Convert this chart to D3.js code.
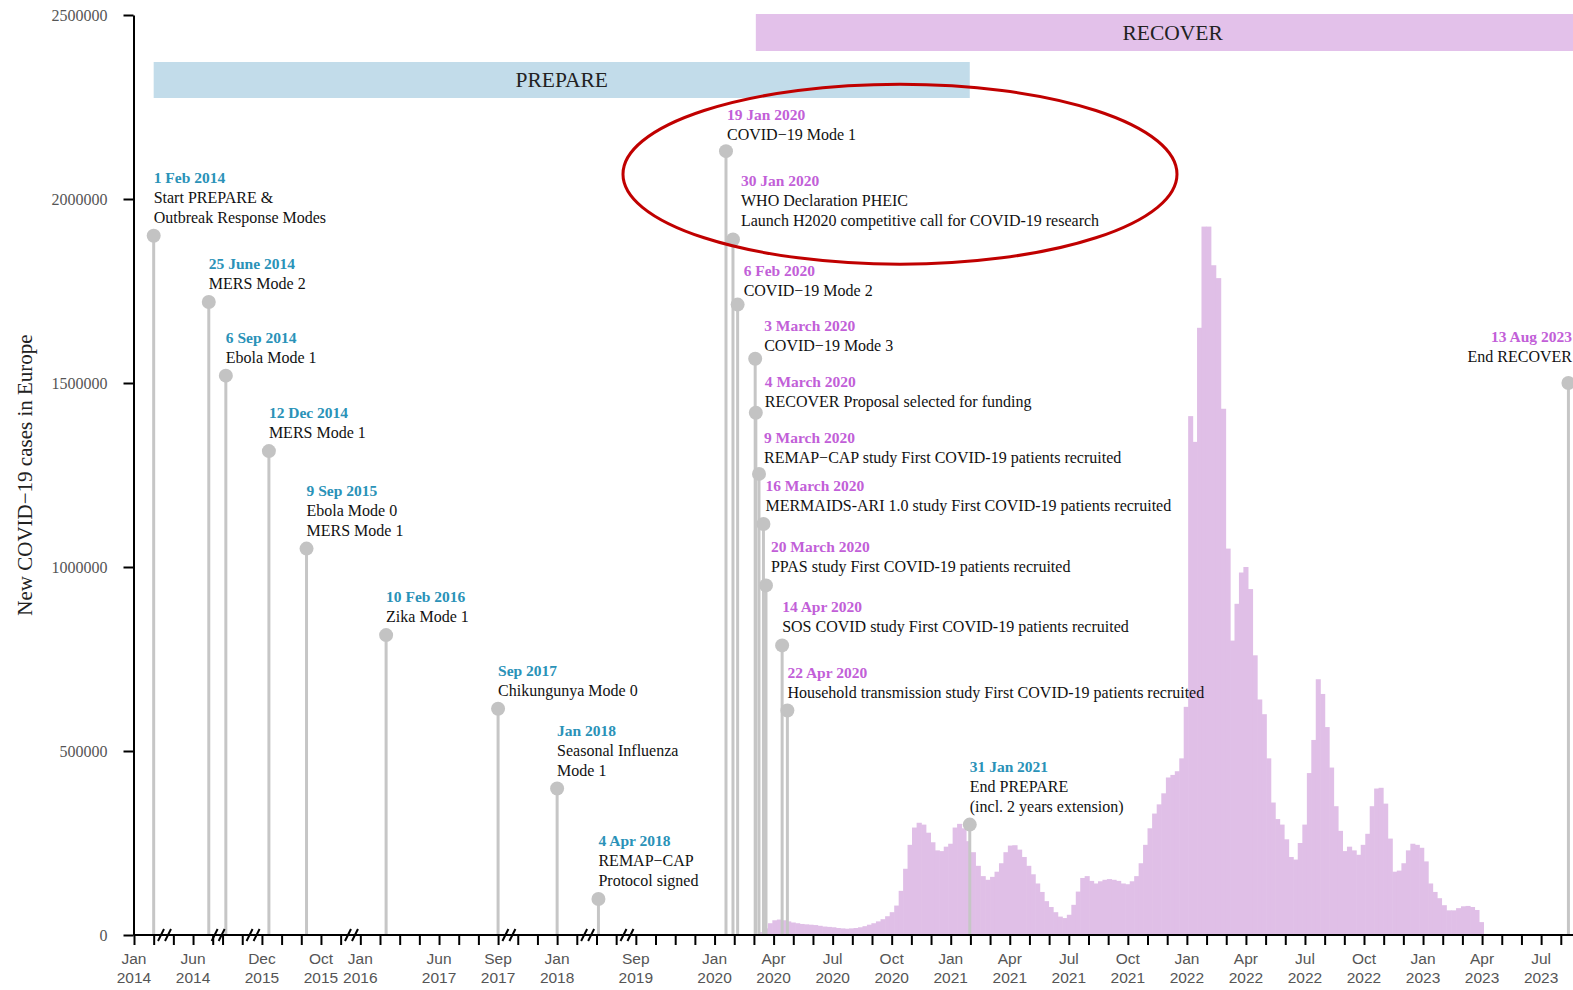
<!DOCTYPE html>
<html>
<head>
<meta charset="utf-8">
<script src="https://cdn.jsdelivr.net/npm/d3@7"></script>
<style>
  body { margin: 0; background: #fff; }
  svg { display: block; font-family: "Liberation Serif", "Times New Roman", serif; }
</style>
</head>
<body>
<div id="chart"></div>
<script>
// broken time axis: each anchor month sits on a slot, slots are evenly spaced
const axisAnchors = [
  ['2014-01-01', 0], ['2014-02-01', 1], ['2014-05-01', 2], ['2014-06-01', 3],
  ['2014-07-01', 4], ['2014-09-01', 4.5], ['2014-10-01', 5.5], ['2014-12-01', 6.5],
  ['2015-01-01', 7.5], ['2015-09-01', 8.5], ['2015-10-01', 9.5], ['2015-11-01', 10.5],
  ['2016-01-01', 11.5], ['2016-02-01', 12.5], ['2016-03-01', 13.5], ['2017-05-01', 14.5],
  ['2017-06-01', 15.5], ['2017-07-01', 16.5], ['2017-08-01', 17.5], ['2017-09-01', 18.5],
  ['2017-11-01', 19.5], ['2017-12-01', 20.5], ['2018-01-01', 21.5], ['2018-02-01', 22.5],
  ['2018-04-01', 23.5], ['2018-05-01', 24.5],
];
// from Sep 2019 the axis is continuous, one slot per month
const continuousFrom = '2019-09-01';
const continuousTo = '2023-09-01';

const axisBreaks = [
  ['2014-02-01', '2014-05-01'], ['2014-07-01', '2014-09-01'], ['2014-10-01', '2014-12-01'],
  ['2015-11-01', '2016-01-01'], ['2017-09-01', '2017-11-01'], ['2018-02-01', '2018-04-01'],
  ['2018-05-01', '2019-09-01'],
];

const tickLabels = [
  ['2014-01-01', 'Jan', '2014'], ['2014-06-01', 'Jun', '2014'], ['2014-12-01', 'Dec', '2015'],
  ['2015-10-01', 'Oct', '2015'], ['2016-01-01', 'Jan', '2016'], ['2017-06-01', 'Jun', '2017'],
  ['2017-09-01', 'Sep', '2017'], ['2018-01-01', 'Jan', '2018'], ['2019-09-01', 'Sep', '2019'],
  ['2020-01-01', 'Jan', '2020'], ['2020-04-01', 'Apr', '2020'], ['2020-07-01', 'Jul', '2020'],
  ['2020-10-01', 'Oct', '2020'], ['2021-01-01', 'Jan', '2021'], ['2021-04-01', 'Apr', '2021'],
  ['2021-07-01', 'Jul', '2021'], ['2021-10-01', 'Oct', '2021'], ['2022-01-01', 'Jan', '2022'],
  ['2022-04-01', 'Apr', '2022'], ['2022-07-01', 'Jul', '2022'], ['2022-10-01', 'Oct', '2022'],
  ['2023-01-01', 'Jan', '2023'], ['2023-04-01', 'Apr', '2023'], ['2023-07-01', 'Jul', '2023'],
];

const yTicks = [0, 500000, 1000000, 1500000, 2000000, 2500000];

// weekly bins starting Monday 2 March 2020
const casesStart = '2020-03-02';
const weeklyCases = [
  3000, 8000, 18000, 32000, 40000, 42000, 40000, 37000, 34000, 32000,
  30000, 29000, 28000, 27000, 25000, 23000, 22000, 21000, 19000, 18000,
  17000, 18000, 19000, 21000, 24000, 28000, 32000, 37000, 43000, 51000,
  62000, 80000, 120000, 180000, 245000, 292000, 305000, 300000, 278000, 252000,
  230000, 228000, 240000, 248000, 292000, 302000, 290000, 255000, 225000, 188000,
  160000, 150000, 158000, 172000, 195000, 225000, 243000, 244000, 232000, 212000,
  188000, 165000, 140000, 117000, 92000, 76000, 62000, 50000, 46000, 55000,
  82000, 118000, 155000, 160000, 147000, 140000, 146000, 150000, 152000, 150000,
  147000, 140000, 138000, 146000, 160000, 195000, 245000, 290000, 330000, 355000,
  385000, 428000, 435000, 445000, 480000, 620000, 1410000, 1340000, 1650000, 1925000,
  1925000, 1820000, 1785000, 1430000, 1050000, 800000, 900000, 985000, 1000000, 940000,
  760000, 640000, 600000, 480000, 360000, 315000, 300000, 260000, 212000, 205000,
  250000, 300000, 440000, 530000, 695000, 655000, 565000, 455000, 350000, 283000,
  228000, 240000, 230000, 218000, 245000, 275000, 350000, 398000, 400000, 357000,
  262000, 172000, 175000, 195000, 230000, 248000, 245000, 237000, 200000, 140000,
  117000, 100000, 81000, 67000, 67000, 73000, 78000, 79000, 76000, 68000,
  35000,
];

const eventDates = [
  '2014-02-01', '2014-06-25', '2014-09-06', '2014-12-12', '2015-09-09', '2016-02-10',
  '2017-09-01', '2018-01-01', '2018-04-04', '2020-01-19', '2020-01-30', '2020-02-06',
  '2020-03-03', '2020-03-04', '2020-03-09', '2020-03-16', '2020-03-20', '2020-04-14',
  '2020-04-22', '2021-01-31', '2023-08-13',
];
const eventTitles = [
  '1 Feb 2014', '25 June 2014', '6 Sep 2014', '12 Dec 2014', '9 Sep 2015', '10 Feb 2016',
  'Sep 2017', 'Jan 2018', '4 Apr 2018', '19 Jan 2020', '30 Jan 2020', '6 Feb 2020',
  '3 March 2020', '4 March 2020', '9 March 2020', '16 March 2020', '20 March 2020', '14 Apr 2020',
  '22 Apr 2020', '31 Jan 2021', '13 Aug 2023',
];
const eventTexts = [
  ['Start PREPARE &', 'Outbreak Response Modes'],
  ['MERS Mode 2'],
  ['Ebola Mode 1'],
  ['MERS Mode 1'],
  ['Ebola Mode 0', 'MERS Mode 1'],
  ['Zika Mode 1'],
  ['Chikungunya Mode 0'],
  ['Seasonal Influenza', 'Mode 1'],
  ['REMAP\u2212CAP', 'Protocol signed'],
  ['COVID\u221219 Mode 1'],
  ['WHO Declaration PHEIC', 'Launch H2020 competitive call for COVID-19 research'],
  ['COVID\u221219 Mode 2'],
  ['COVID\u221219 Mode 3'],
  ['RECOVER Proposal selected for funding'],
  ['REMAP\u2212CAP study First COVID-19 patients recruited'],
  ['MERMAIDS-ARI 1.0 study First COVID-19 patients recruited'],
  ['PPAS study First COVID-19 patients recruited'],
  ['SOS COVID study First COVID-19 patients recruited'],
  ['Household transmission study First COVID-19 patients recruited'],
  ['End PREPARE', '(incl. 2 years extension)'],
  ['End RECOVER'],
];
const eventHeights = [
  1900000, 1720000, 1520000, 1315000, 1050000, 815000, 615000, 398000, 98000,
  2130000, 1890000, 1713000, 1566000, 1419000, 1253000, 1117000, 950000, 787000,
  610000, 300000, 1500000,
];
const eventProject = [
  'PREPARE', 'PREPARE', 'PREPARE', 'PREPARE', 'PREPARE', 'PREPARE', 'PREPARE', 'PREPARE', 'PREPARE',
  'RECOVER', 'RECOVER', 'RECOVER', 'RECOVER', 'RECOVER', 'RECOVER', 'RECOVER', 'RECOVER', 'RECOVER',
  'RECOVER', 'PREPARE', 'RECOVER',
];

const projectNames = ['PREPARE', 'RECOVER'];
const projectStart = ['2014-02-01', '2020-03-04'];
const projectEnd = ['2021-01-31', '2023-09-15'];

// ---- layout ----
const width = 1573;
const height = 990;
const x0 = 134;
const slot = 19.68;
const yTop = 15;
const yBase = 935;

const colors = {
  PREPARE: '#2a92b8',
  RECOVER: '#c25fd8',
};
const bandFill = { PREPARE: '#c2dcea', RECOVER: '#e3c1ea' };
const bandY = { PREPARE: [62, 98], RECOVER: [14, 51] };
// small nudges of labels [dx, dy] so they sit like the original
const labelNudge = {
  '19 Jan 2020': [1, 2], '30 Jan 2020': [8, 0], '6 Feb 2020': [6, 4], '3 March 2020': [9, 5],
  '4 March 2020': [9, 7], '9 March 2020': [5, 2], '16 March 2020': [2, 0], '20 March 2020': [5, 0],
  '13 Aug 2023': [0, -8],
};

const parse = d3.timeParse('%Y-%m-%d');

const domainDates = axisAnchors.map((a) => parse(a[0]));
const domainSlots = axisAnchors.map((a) => a[1]);
const contMonths = d3.timeMonth.range(parse(continuousFrom), d3.timeMonth.offset(parse(continuousTo), 1));
const lastSlot = d3.max(domainSlots);
contMonths.forEach((m, i) => {
  domainDates.push(m);
  domainSlots.push(lastSlot + 1 + i);
});

const x = d3.scaleTime()
  .domain(domainDates)
  .range(domainSlots.map((s) => x0 + s * slot));

const y = d3.scaleLinear().domain([0, 2500000]).range([yBase, yTop]);

const svg = d3.select('#chart').append('svg')
  .attr('width', width)
  .attr('height', height);

// project bands
projectNames.forEach((p, i) => {
  const xa = x(parse(projectStart[i]));
  const xb = x(parse(projectEnd[i]));
  svg.append('rect')
    .attr('x', xa).attr('y', bandY[p][0])
    .attr('width', xb - xa).attr('height', bandY[p][1] - bandY[p][0])
    .attr('fill', bandFill[p]);
  svg.append('text')
    .attr('x', (xa + xb) / 2)
    .attr('y', (bandY[p][0] + bandY[p][1]) / 2 + 7)
    .attr('text-anchor', 'middle')
    .style('font-size', '21.5px')
    .attr('fill', '#222')
    .text(p);
});

// weekly cases histogram
const start = parse(casesStart);
const weeks = weeklyCases.map((v, i) => ({
  date: d3.timeDay.offset(start, 7 * i),
  end: d3.timeDay.offset(start, 7 * (i + 1)),
  value: v,
}));
svg.append('g').selectAll('rect')
  .data(weeks)
  .enter()
  .append('rect')
  .attr('x', (d) => x(d.date))
  .attr('width', (d) => x(d.end) - x(d.date) + 0.6)
  .attr('y', (d) => y(d.value))
  .attr('height', (d) => y(0) - y(d.value))
  .attr('fill', '#e0bfe7');

// events
const events = eventDates.map((d, i) => ({
  date: parse(d),
  title: eventTitles[i],
  lines: eventTexts[i],
  value: eventHeights[i],
  project: eventProject[i],
}));

svg.append('g').selectAll('line')
  .data(events)
  .enter()
  .append('line')
  .attr('x1', (d) => x(d.date)).attr('x2', (d) => x(d.date))
  .attr('y1', y(0)).attr('y2', (d) => y(d.value))
  .attr('stroke', '#c6c6c6')
  .attr('stroke-width', 3);

svg.append('g').selectAll('circle')
  .data(events)
  .enter()
  .append('circle')
  .attr('cx', (d) => x(d.date))
  .attr('cy', (d) => y(d.value))
  .attr('r', 7)
  .attr('fill', '#c3c3c3');

// axes
const xAxisG = svg.append('g')
  .attr('transform', `translate(0,${yBase})`)
  .call(d3.axisBottom(x).tickValues(domainDates).tickSize(10).tickSizeOuter(0).tickFormat(''));
xAxisG.select('.domain').attr('stroke', '#000').attr('stroke-width', 2)
  .attr('d', `M${x0},0H${width}`);
xAxisG.selectAll('.tick line').attr('stroke', '#000').attr('stroke-width', 2);

tickLabels.forEach((t) => {
  const tx = x(parse(t[0]));
  const txt = xAxisG.append('text')
    .attr('text-anchor', 'middle')
    .attr('fill', '#555')
    .style('font-size', '15.5px');
  txt.append('tspan').attr('x', tx).attr('y', 29).text(t[1]);
  txt.append('tspan').attr('x', tx).attr('y', 48).text(t[2]);
});

// break marks
axisBreaks.forEach((b) => {
  const xa = x(parse(b[0]));
  const xb = x(parse(b[1]));
  const bx = xa + 0.55 * (xb - xa);
  [-3.5, 3.5].forEach((off) => {
    xAxisG.append('line')
      .attr('x1', bx + off - 3).attr('y1', 6)
      .attr('x2', bx + off + 3).attr('y2', -6)
      .attr('stroke', '#000')
      .attr('stroke-width', 2);
  });
});

const yAxisG = svg.append('g')
  .attr('transform', `translate(${x0 - 0.5},0)`)
  .call(d3.axisLeft(y).tickValues(yTicks).tickSize(10).tickSizeOuter(0).tickPadding(16).tickFormat(d3.format('d')));
yAxisG.select('.domain').attr('stroke', '#000').attr('stroke-width', 2);
yAxisG.selectAll('.tick line').attr('stroke', '#000').attr('stroke-width', 2);
yAxisG.selectAll('.tick text')
  .attr('fill', '#555')
  .style('font-size', '16px')
  .style('font-family', '"Liberation Serif", serif');

svg.append('text')
  .attr('transform', `translate(32,${(yTop + yBase) / 2}) rotate(-90)`)
  .attr('text-anchor', 'middle')
  .style('font-size', '21px')
  .attr('fill', '#222')
  .text('New COVID\u221219 cases in Europe');

// event labels
events.forEach((d) => {
  const nudge = labelNudge[d.title] || [0, 0];
  const alignEnd = d.title === '13 Aug 2023';
  const lx = alignEnd ? width - 1 : x(d.date) + nudge[0];
  const baseY = y(d.value) - 13 + nudge[1];
  const n = d.lines.length;
  const g = svg.append('g').attr('text-anchor', alignEnd ? 'end' : 'start');
  g.append('text')
    .attr('x', lx).attr('y', baseY - 20 * n)
    .style('font-size', '15.5px')
    .style('font-weight', 'bold')
    .attr('fill', colors[d.project])
    .text(d.title);
  d.lines.forEach((line, j) => {
    g.append('text')
      .attr('x', lx).attr('y', baseY - 20 * (n - 1 - j))
      .style('font-size', '16px')
      .attr('fill', '#111')
      .text(line);
  });
});

// highlight ring round the first COVID-19 events
const ringRef = events[9];
svg.append('ellipse')
  .attr('cx', x(ringRef.date) + 174)
  .attr('cy', y(ringRef.value) + 23)
  .attr('rx', 277)
  .attr('ry', 90)
  .attr('fill', 'none')
  .attr('stroke', '#c00000')
  .attr('stroke-width', 3);
</script>
</body>
</html>
